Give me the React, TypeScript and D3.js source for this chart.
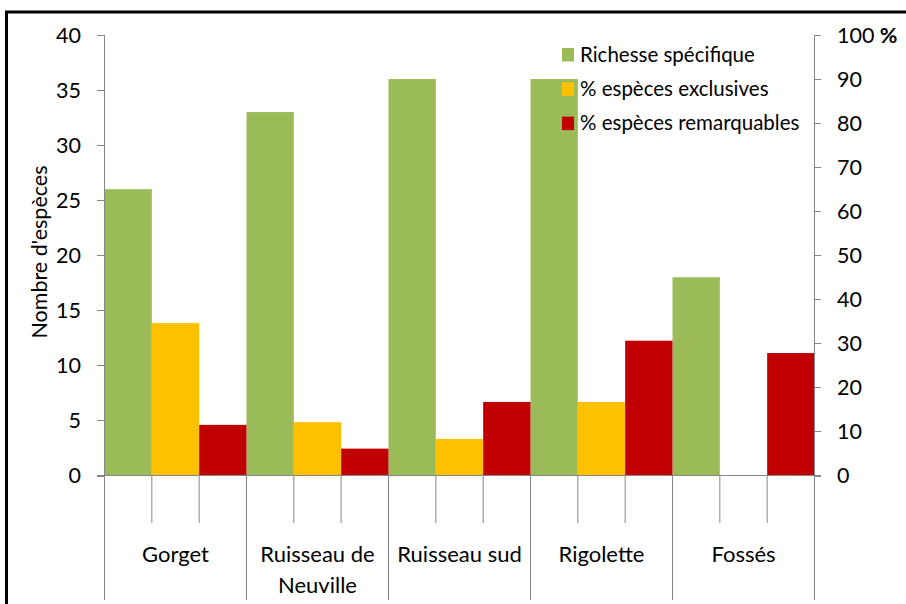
import React from "react";
import * as d3 from "d3";

const categories = ["Gorget", "Ruisseau de Neuville", "Ruisseau sud", "Rigolette", "Fossés"];
const categoryLines = [["Gorget"], ["Ruisseau de", "Neuville"], ["Ruisseau sud"], ["Rigolette"], ["Fossés"]];
const richesse = [26, 33, 36, 36, 18];
const exclusives = [34.6, 12.1, 8.3, 16.7, 0];
const remarquables = [11.5, 6.1, 16.7, 30.6, 27.8];
const seriesNames = ["Richesse spécifique", "% espèces exclusives", "% espèces remarquables"];
const seriesColors = ["#9BBB59", "#FFC000", "#C00000"];
const leftTicks = [0, 5, 10, 15, 20, 25, 30, 35, 40];
const rightTicks = [0, 10, 20, 30, 40, 50, 60, 70, 80, 90, 100];
const yTitle = "Nombre d'espèces";

const FONT = "Lato, 'Open Sans', sans-serif";
const AXIS = "#868686";

export default function App() {
  const W = 906, H = 604;
  const x0 = 104.5, x1 = 814.5, yZero = 475.5, yTop = 35;
  const xGroup = d3.scaleBand<string>().domain(categories).range([x0, x1]).padding(0);
  const xInner = d3.scaleBand<string>().domain(seriesNames).range([0, xGroup.bandwidth()]).padding(0);
  const yLeft = d3.scaleLinear().domain([0, 40]).range([yZero, yTop]);
  const yRight = d3.scaleLinear().domain([0, 100]).range([yZero, yTop]);

  const seriesData = [richesse, exclusives, remarquables];
  const seriesScale = [yLeft, yRight, yRight];

  const innerTicks: number[] = [];
  categories.forEach((c) => {
    seriesNames.slice(1).forEach((s) => innerTicks.push((xGroup(c) as number) + (xInner(s) as number)));
  });
  const groupLines = [...categories.map((c) => xGroup(c) as number), x1];

  return (
    <svg width={W} height={H} style={{ position: "absolute", left: 0, top: 0, background: "#fff" }} fontFamily={FONT}>
      <rect x={0} y={0} width={W} height={H} fill="#fff" />
      <rect x={6.5} y={12} width={1200} height={1200} fill="none" stroke="#000" strokeWidth={3} />

      {/* bars */}
      {seriesData.map((vals, si) =>
        vals.map((v, ci) => {
          const sc = seriesScale[si];
          const x = (xGroup(categories[ci]) as number) + (xInner(seriesNames[si]) as number);
          const y = sc(v);
          return (
            <rect key={`${si}-${ci}`} x={x} y={y} width={xInner.bandwidth()} height={yZero - y} fill={seriesColors[si]} />
          );
        })
      )}

      {/* left axis */}
      <line x1={x0} x2={x0} y1={yTop} y2={yZero} stroke={AXIS} />
      {leftTicks.map((t) => (
        <g key={`l${t}`}>
          <line x1={97} x2={x0} y1={Math.round(yLeft(t)) + 0.5} y2={Math.round(yLeft(t)) + 0.5} stroke={AXIS} />
          <text x={81} y={yLeft(t)} dy="0.36em" textAnchor="end" fontSize={21.5} fill="#000">{t}</text>
        </g>
      ))}

      {/* right axis */}
      <line x1={x1} x2={x1} y1={yTop} y2={yZero} stroke={AXIS} />
      {rightTicks.map((t) => (
        <g key={`r${t}`}>
          <line x1={x1} x2={821} y1={Math.round(yRight(t)) + 0.5} y2={Math.round(yRight(t)) + 0.5} stroke={AXIS} />
          <text x={837} y={yRight(t)} dy="0.36em" textAnchor="start" fontSize={21.5} fill="#000">
            {t}
            {t === 100 ? <tspan fontWeight="bold"> %</tspan> : null}
          </text>
        </g>
      ))}

      {/* zero line */}
      <line x1={97} x2={821} y1={yZero} y2={yZero} stroke={AXIS} />

      {/* category axis */}
      {innerTicks.map((x, i) => (
        <line key={`it${i}`} x1={x} x2={x} y1={yZero} y2={523} stroke={AXIS} />
      ))}
      {groupLines.map((x, i) => (
        <line key={`gl${i}`} x1={x} x2={x} y1={yZero} y2={600} stroke={AXIS} />
      ))}
      {categories.map((c, i) => (
        <text key={c} x={(xGroup(c) as number) + xGroup.bandwidth() / 2} y={562} textAnchor="middle" fontSize={22} fill="#000">
          {categoryLines[i].map((ln, k) => (
            <tspan key={k} x={(xGroup(c) as number) + xGroup.bandwidth() / 2} y={562 + k * 31}>{ln}</tspan>
          ))}
        </text>
      ))}

      {/* y title */}
      <text transform={`translate(47,252) rotate(-90)`} textAnchor="middle" fontSize={21.5} fill="#000">
        {yTitle}
      </text>

      {/* legend */}
      {seriesNames.map((s, i) => (
        <g key={s}>
          <rect x={562} y={48 + i * 34.3} width={12} height={13.5} fill={seriesColors[i]} />
          <text x={580} y={61.5 + i * 34.3} fontSize={20.5} fill="#000">{s}</text>
        </g>
      ))}
    </svg>
  );
}
